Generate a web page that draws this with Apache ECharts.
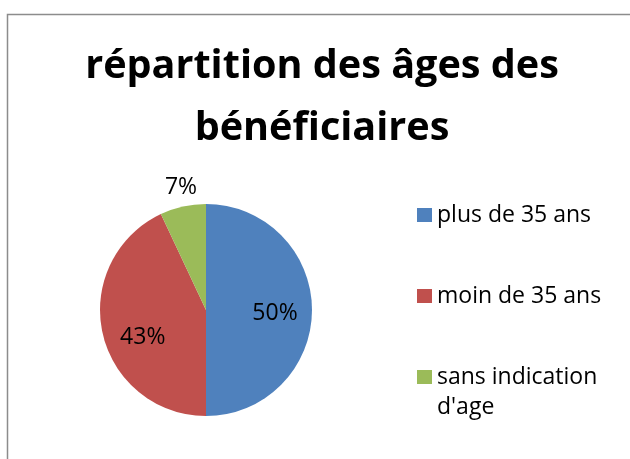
<!DOCTYPE html>
<html>
<head>
<meta charset="utf-8">
<script src="https://cdn.jsdelivr.net/npm/echarts@6/dist/echarts.min.js"></script>
<style>html,body{margin:0;padding:0;background:#fff}#c{width:630px;height:459px}</style>
</head>
<body>
<div id="c"></div>
<script>
const titleText = "répartition des âges des\nbénéficiaires";
const categories = ["plus de 35 ans", "moin de 35 ans", "sans indication d'age"];
const legendLabels = ["plus de 35 ans", "moin de 35 ans", " \nsans indication\nd'age"];
const values = [50, 43, 7];
const colors = ["#4F81BD", "#C0504D", "#9BBB59"];

const font = "'Open Sans', sans-serif";
const center = [206, 310];
const labelNudge = [[-4, 3], [8, 12], [3, 3]];
const data = categories.map((n, i) => ({ name: n, value: values[i], itemStyle: { color: colors[i] } }));

function ghost(radius, showIdx) {
  return {
    type: 'pie', radius: radius, center: center, startAngle: 90, clockwise: true,
    silent: true, animation: false, legendHoverLink: false,
    emphasis: { disabled: true },
    itemStyle: { color: 'rgba(0,0,0,0)', borderWidth: 0 },
    labelLine: { show: false },
    labelLayout: p => ({ dx: labelNudge[p.dataIndex][0], dy: labelNudge[p.dataIndex][1] }),
    data: categories.map((n, i) => ({
      name: n, value: values[i],
      itemStyle: { color: 'rgba(0,0,0,0)' },
      label: {
        show: showIdx.indexOf(i) >= 0, position: 'inside',
        formatter: '{d}%', color: '#000', fontFamily: font, fontSize: 23
      }
    }))
  };
}

const chart = echarts.init(document.getElementById('c'), null, { renderer: 'canvas' });
function legendAt(top, idx) {
  return {
    orient: 'vertical', left: 417, top: top, padding: 0, icon: 'rect', itemWidth: 15, itemHeight: 14,
    selectedMode: false,
    textStyle: { fontFamily: font, fontSize: 23, color: '#000', lineHeight: 30 },
    formatter: n => legendLabels[categories.indexOf(n)],
    data: [categories[idx]]
  };
}
chart.setOption({
  animation: false,
  title: {
    text: titleText, left: 317, textAlign: 'center', top: 31,
    textStyle: { fontFamily: font, fontWeight: 'bold', fontSize: 39.6, lineHeight: 62, color: '#000' }
  },
  legend: [
    legendAt(200, 0),
    legendAt(281, 1),
    legendAt(332, 2)
  ],
  graphic: [{
    type: 'rect', silent: true,
    shape: { x: 7.5, y: 14.5, width: 700, height: 500 },
    style: { fill: 'none', stroke: '#8c8c8c', lineWidth: 1.5 }
  }],
  series: [
    {
      type: 'pie', radius: 106, center: center, startAngle: 90, clockwise: true,
      animation: false, label: { show: false }, labelLine: { show: false },
      itemStyle: { borderWidth: 0 },
      data: data
    },
    ghost(140, [0, 1]),
    ghost(251, [2])
  ]
});
</script>
</body>
</html>
